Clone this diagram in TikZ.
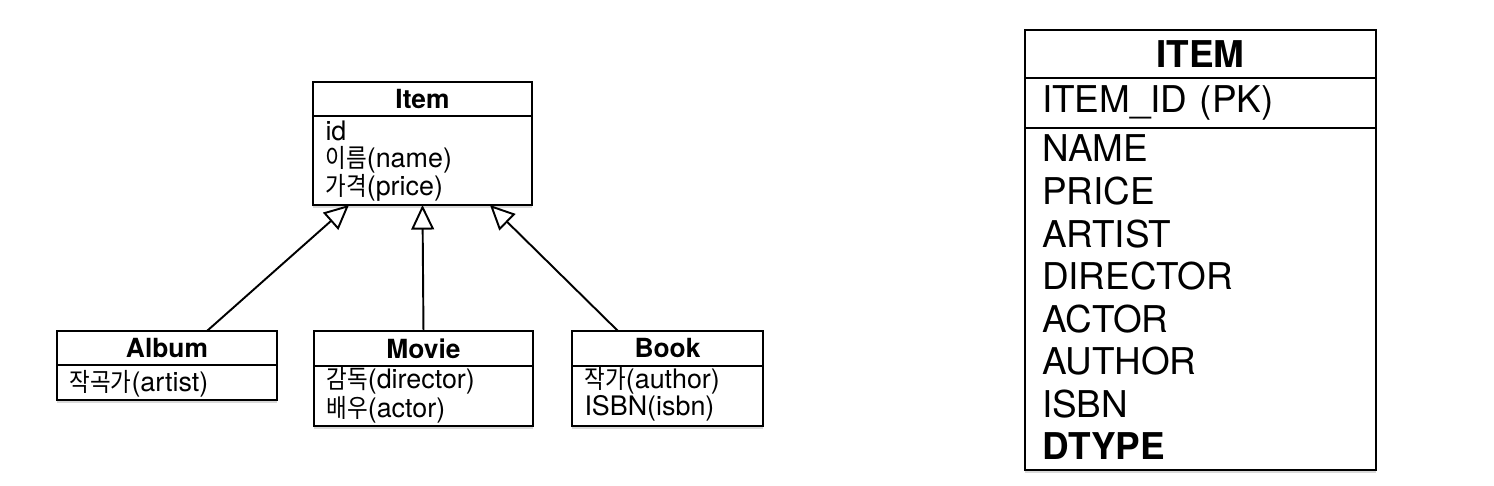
\documentclass[tikz,border=0pt]{standalone}
\usepackage{fontspec}
\setmainfont{TeX Gyre Heros}
\newfontfamily\kr[Scale=0.95, FakeStretch=0.88]{Noto Sans CJK KR}
\usetikzlibrary{arrows.meta, positioning, shadows}

\begin{document}
\begin{tikzpicture}[x=0.02cm, y=-0.02cm,
  box/.style={draw, line width=1.1pt, outer sep=0pt, fill=white, drop shadow={shadow xshift=0pt, shadow yshift=-1.8pt, opacity=0.3}},
  hd/.style={box, inner sep=0pt, font=\bfseries\fontsize{15}{16}\selectfont},
  bd/.style={box, align=left, inner xsep=0.25cm, inner ysep=0pt, font=\fontsize{15.3}{15}\selectfont},
  thd/.style={box, inner sep=0pt, minimum width=7.02cm, font=\bfseries\fontsize{21}{24}\selectfont},
  tbd/.style={box, align=left, inner xsep=0.34cm, inner ysep=0pt, text width=6.34cm, font=\fontsize{21}{24.2}\selectfont},
  inherit/.style={line width=1.1pt, -{Triangle[open, length=14pt, width=13pt]}}]
\useasboundingbox (0,0) rectangle (1494,486);
\node[hd, minimum width=4.38cm, minimum height=0.68cm, anchor=north west] (itemhead) at (313,82) {Item};
\node[bd, below=0pt of itemhead, text width=3.88cm, text height=0.5cm, text depth=1.28cm] (itembody) {id\\{\kr 이름}(name)\\{\kr 가격}(price)};
\node[hd, minimum width=4.4cm, minimum height=0.68cm, anchor=north west] (albumhead) at (57,331) {Album};
\node[bd, below=0pt of albumhead, text width=3.9cm, text height=0.54cm, text depth=0.16cm] (albumbody) {{\kr 작곡가}(artist)};
\node[hd, minimum width=4.38cm, minimum height=0.7cm, anchor=north west] (moviehead) at (314,331) {Movie};
\node[bd, below=0pt of moviehead, text width=3.88cm, text height=0.46cm, text depth=0.74cm] (moviebody) {{\kr 감독}(director)\\{\kr 배우}(actor)};
\node[hd, minimum width=3.82cm, minimum height=0.7cm, anchor=north west] (bookhead) at (572,331) {Book};
\node[bd, below=0pt of bookhead, text width=3.32cm, text height=0.46cm, text depth=0.74cm] (bookbody) {{\kr 작가}(author)\\ISBN(isbn)};
\foreach \from/\dx/\ex in {album/0.8/-1.47, movie/0/0, book/-0.99/1.35}
  \draw[inherit] ([xshift=\dx cm]\from head.north) -- ([xshift=\ex cm]itembody.south);
\node[thd, minimum height=0.96cm, anchor=north west] (tablehead) at (1025,30) {ITEM};
\node[tbd, below=0pt of tablehead, minimum height=1.0cm] (tablekey) {ITEM\_ID (PK)};
\node[tbd, below=0pt of tablekey, text height=0.68cm, text depth=6.16cm] (tablecols) {NAME\\PRICE\\ARTIST\\DIRECTOR\\ACTOR\\AUTHOR\\ISBN\\\textbf{DTYPE}};
\end{tikzpicture}
\end{document}
